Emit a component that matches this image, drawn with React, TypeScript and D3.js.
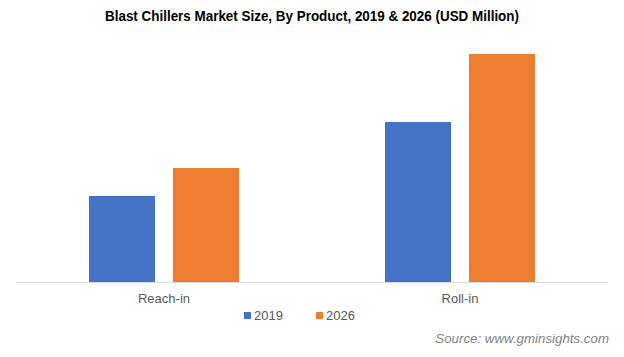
import React from "react";
import * as d3 from "d3";

const categories = ["Reach-in", "Roll-in"];
const seriesNames = ["2019", "2026"];
const values2019 = [86, 160];
const values2026 = [114, 228];
const colors = ["#4472C4", "#ED7D31"];

const W = 624;
const H = 357;
const margin = { left: 16, right: 16, top: 32, bottom: 75 };

export default function App() {
  const x0 = d3
    .scaleBand<string>()
    .domain(categories)
    .range([margin.left, W - margin.right])
    .paddingInner(0)
    .paddingOuter(0);
  const bw = x0.bandwidth();
  const groupW = bw * 0.507;
  const x1 = d3
    .scaleBand<string>()
    .domain(seriesNames)
    .range([(bw - groupW) / 2, (bw + groupW) / 2])
    .paddingInner(0.214);
  const baseY = H - margin.bottom;
  const y = d3.scaleLinear().domain([0, 250]).range([baseY, margin.top]);
  const series = [values2019, values2026];

  return (
    <svg width={W} height={H} style={{ position: "absolute", left: 0, top: 0, background: "#fff" }}>
      <text
        x={312}
        y={21}
        textAnchor="middle"
        fontFamily="'Liberation Sans', Arial, sans-serif"
        fontWeight="bold"
        fontSize={14.5}
        textLength={414}
        lengthAdjust="spacingAndGlyphs"
        fill="#000"
      >
        Blast Chillers Market Size, By Product, 2019 &amp; 2026 (USD Million)
      </text>
      {categories.map((c, i) =>
        seriesNames.map((s, j) => (
          <rect
            key={c + s}
            x={(x0(c) ?? 0) + (x1(s) ?? 0)}
            y={y(series[j][i])}
            width={x1.bandwidth()}
            height={baseY - y(series[j][i])}
            fill={colors[j]}
          />
        ))
      )}
      <line x1={margin.left} x2={W - margin.right} y1={baseY + 0.5} y2={baseY + 0.5} stroke="#d9d9d9" strokeWidth={1} />
      {categories.map((c) => (
        <text
          key={c}
          x={(x0(c) ?? 0) + bw / 2}
          y={303}
          textAnchor="middle"
          fontFamily="'Liberation Sans', Arial, sans-serif"
          fontSize={13}
          fill="#595959"
        >
          {c}
        </text>
      ))}
      {seriesNames.map((s, j) => {
        const lx = 244 + j * 72;
        return (
          <g key={s}>
            <rect x={lx} y={312} width={7} height={7} fill={colors[j]} />
            <text
              x={lx + 10}
              y={320}
              fontFamily="'Liberation Sans', Arial, sans-serif"
              fontSize={13}
              fill="#595959"
            >
              {s}
            </text>
          </g>
        );
      })}
      <text
        x={609}
        y={343}
        textAnchor="end"
        fontFamily="'Liberation Sans', Arial, sans-serif"
        fontStyle="italic"
        fontSize={13.3}
        fill="#7f7f7f"
      >
        Source: www.gminsights.com
      </text>
    </svg>
  );
}
